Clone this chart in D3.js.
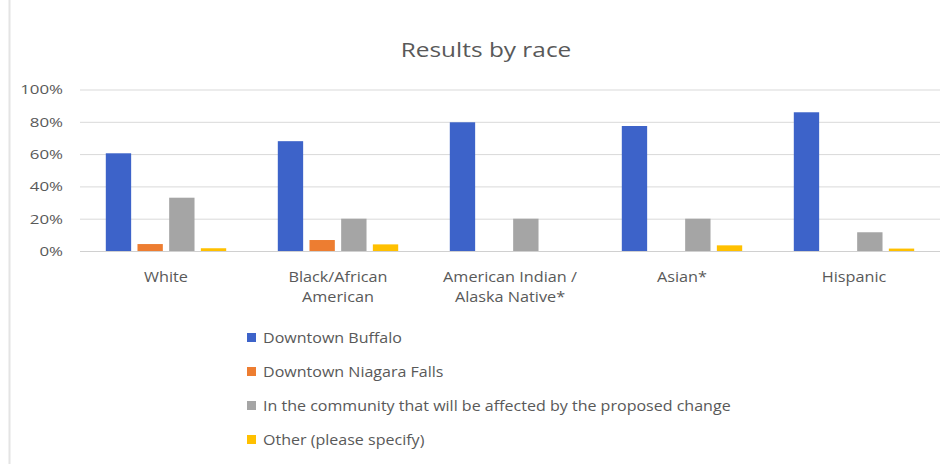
<!DOCTYPE html>
<html>
<head>
<meta charset="utf-8">
<script src="https://cdn.jsdelivr.net/npm/d3@7"></script>
<style>
  html, body { margin: 0; padding: 0; background: #fff; }
  svg { display: block; font-family: "Open Sans", "Noto Sans", sans-serif; }
</style>
</head>
<body>
<svg id="chart" width="951" height="464"></svg>
<script>
const title = "Results by race";
const categories = [["White"], ["Black/African", "American"], ["American Indian /", "Alaska Native*"], ["Asian*"], ["Hispanic"]];
const seriesNames = ["Downtown Buffalo", "Downtown Niagara Falls", "In the community that will be affected by the proposed change", "Other (please specify)"];
const buffalo = [0.605, 0.68, 0.797, 0.774, 0.859];
const niagara = [0.043, 0.068, 0, 0, 0];
const community = [0.33, 0.20, 0.20, 0.20, 0.116];
const other = [0.017, 0.041, 0, 0.035, 0.015];
const colors = ["#3D63C9", "#ED7D31", "#A5A5A5", "#FFC000"];
const yTicks = [0, 0.2, 0.4, 0.6, 0.8, 1.0];

const seriesValues = [buffalo, niagara, community, other];
const svg = d3.select("#chart");
const W = 951, H = 464;
const m = { left: 80, right: 11, top: 89.5, bottom: 213 };
const TXT = "#595959";

function stretched(sel, x, y, sx) {
  return sel.attr("transform", `translate(${x},${y}) scale(${sx},1)`);
}

// frame
svg.append("line").attr("x1", 9.5).attr("x2", 9.5).attr("y1", 0).attr("y2", H)
  .attr("stroke", "#e4e4e4").attr("stroke-width", 2);

const x0 = d3.scaleBand().domain(d3.range(categories.length))
  .range([m.left, W - m.right]).paddingInner(0.3).paddingOuter(0.15);
const x1 = d3.scaleBand().domain(d3.range(seriesNames.length))
  .range([0, x0.bandwidth()]).paddingInner(0.2);
const y = d3.scaleLinear().domain([0, 1]).range([H - m.bottom, m.top]);

// title
stretched(svg.append("text"), 486, 57, 1.22).attr("text-anchor", "middle")
  .attr("font-size", 20).attr("fill", TXT).text(title);

// grid + y axis
const yAxis = d3.axisLeft(y).tickValues(yTicks).tickFormat(d3.format(".0%"))
  .tickSize(-(W - m.right - m.left)).tickPadding(17);
const gy = svg.append("g").attr("transform", `translate(${m.left},0)`).call(yAxis);
gy.select(".domain").remove();
gy.selectAll(".tick line").attr("stroke", "#d9d9d9").attr("stroke-width", 1);
gy.selectAll(".tick text").attr("fill", TXT).attr("font-size", 13.5)
  .attr("font-family", "Open Sans, sans-serif")
  .attr("x", 0).attr("transform", "translate(-17,0) scale(1.25,1)");

// bars
const groups = svg.append("g").selectAll("g").data(categories).join("g")
  .attr("transform", (d, i) => `translate(${x0(i)},0)`);
groups.selectAll("rect").data((d, i) => seriesValues.map((s, k) => ({ k, v: s[i] })))
  .join("rect")
  .attr("x", d => x1(d.k)).attr("width", x1.bandwidth())
  .attr("y", d => y(d.v)).attr("height", d => y(0) - y(d.v))
  .attr("fill", d => colors[d.k]);

// baseline
svg.append("line").attr("x1", m.left).attr("x2", W - m.right)
  .attr("y1", y(0) + 0.5).attr("y2", y(0) + 0.5).attr("stroke", "#d0d0d0");

// x labels
const xl = svg.append("g").selectAll("text").data(categories).join("text")
  .attr("transform", (d, i) => `translate(${x0(i) + x0.bandwidth() / 2},282) scale(1.16,1)`)
  .attr("text-anchor", "middle")
  .attr("font-size", 14).attr("fill", TXT);
xl.selectAll("tspan").data(d => d).join("tspan")
  .attr("x", 0)
  .attr("dy", (d, j) => j === 0 ? 0 : 20).text(d => d);

// legend
const lg = svg.append("g").selectAll("g").data(seriesNames).join("g")
  .attr("transform", (d, i) => `translate(247,${338 + i * 34})`);
lg.append("rect").attr("x", 0).attr("y", -5).attr("width", 9).attr("height", 9)
  .attr("fill", (d, i) => colors[i]);
lg.append("text").attr("transform", "translate(16,0) scale(1.07,1)").attr("dy", "0.35em")
  .attr("font-size", 15).attr("fill", TXT).text(d => d);
</script>
</body>
</html>
